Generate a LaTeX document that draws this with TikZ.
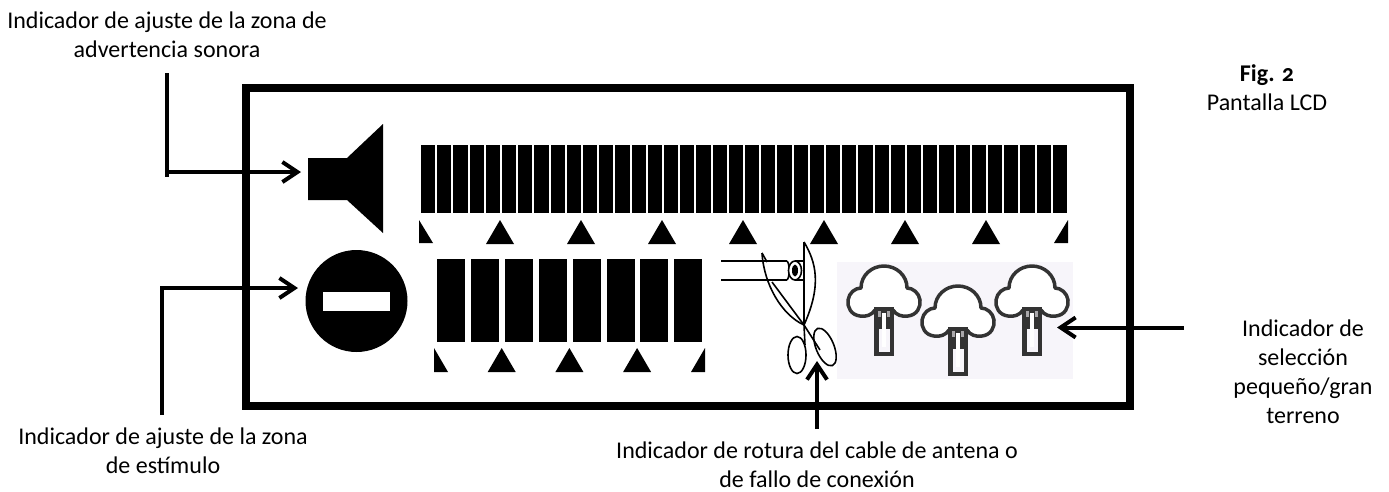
\documentclass[tikz,border=0pt]{standalone}
\usepackage{fontspec}
\setmainfont{Carlito}
\newfontfamily\figfont[Numbers=OldStyle]{Carlito}
\usetikzlibrary{arrows.meta,shapes.geometric}
\definecolor{treeink}{HTML}{333333}
\definecolor{treebg}{HTML}{F7F5FA}
\tikzset{
  x=1pt,y=-1pt,
  lbl/.style={inner sep=0pt,align=center,font=\fontsize{24}{29}\selectfont},
  conn/.style={line width=4pt,-{Straight Barb[length=15pt,width=20pt,line width=4pt]}},
  stem/.style={line width=4pt},
  thinline/.style={line width=1.6pt},
  pics/treeicon/.style={code={
    \fill[treeink] (-10,42) rectangle (10,91);
    \fill[treebg] (-5.5,64) rectangle (5.5,87);
    \fill[white] (-2,48) rectangle (2,82);
    \draw[treeink,line width=3.5pt,line join=round,fill=white]
      (-9,45) .. controls (-12,50) and (-18,52) .. (-24,51)
      .. controls (-33,50) and (-37,42) .. (-36,35)
      .. controls (-35,28) and (-29,23) .. (-23,23)
      .. controls (-23,10) and (-12,1) .. (0,1)
      .. controls (12,1) and (23,10) .. (23,23)
      .. controls (29,23) and (35,28) .. (36,35)
      .. controls (37,42) and (33,50) .. (24,51)
      .. controls (18,52) and (12,50) .. (9,45);
    \fill[treeink] (-10,42) rectangle (10,62);
    \fill[treebg!60!treeink] (-6,46) rectangle (-3,52);
    \fill[treebg!60!treeink] (3,46) rectangle (6,52);
    \fill[white] (-2,48) rectangle (2,82);
  }}
}
\begin{document}
\begin{tikzpicture}
\useasboundingbox (0,0) rectangle (1389,491);
\fill[white] (0,0) rectangle (1389,491);
% frame
\node[draw,line width=8pt,minimum width=884pt,minimum height=318pt,inner sep=0pt,anchor=north west] (frame) at (242,84) {};
% top bars
\foreach \i in {0,...,39} \fill ({421+16.2*\i},145) rectangle ++(14.2,68);
\fill (419,220) -- (433,243) -- (419,243) -- cycle;
\foreach \i in {1,...,7} \fill ({419+81*\i},220) -- ++(14,24) -- ++(-28,0) -- cycle;
\fill (1068,220) -- (1068,243) -- (1054,243) -- cycle;
% speaker
\fill (308,158) -- (347,158) -- (383,124) -- (383,233) -- (347,200) -- (308,200) -- cycle;
% stimulus circle
\node[circle,fill=black,minimum size=102pt,inner sep=0pt] (stim) at (356.5,301) {};
\fill[white] (323,292) rectangle (390,311);
% lower bars
\foreach \i in {0,...,7} \fill ({437+33.9*\i},259) rectangle ++(28,83);
\fill (434,348) -- (448,372) -- (434,372) -- cycle;
\foreach \i in {1,2,3} \fill ({434+67.7*\i},348) -- ++(14,24) -- ++(-28,0) -- cycle;
\fill (705,348) -- (705,372) -- (691,372) -- cycle;
% antenna
\draw[thinline] (721,261) -- (787,261);
\draw[thinline] (721,280) -- (787,280);
\draw[thinline] (787,261) .. controls (790,264) and (790,277) .. (787,280);
\draw[thinline] (795,261) -- (804,261);
\draw[thinline] (795,280) -- (804,280);
\node[ellipse,draw,line width=1.6pt,fill=white,minimum width=13pt,minimum height=19pt,inner sep=0pt] (collar) at (795,270.5) {};
\node[ellipse,fill=black,minimum width=6pt,minimum height=12pt,inner sep=0pt] (core) at (795,270.5) {};
% scissors
\draw[thinline] (804,242) -- (804,325);
\draw[thinline] (804,242) .. controls (816,262) and (822,285) .. (804,325);
\draw[thinline] (762,253) .. controls (764,285) and (782,315) .. (804,325);
\draw[thinline] (762,253) -- (767,262);
\draw[thinline] (772,282) -- (804,325);
\draw[thinline] (804,325) -- (805,345);
\draw[thinline] (804,325) -- (820,350);
\node[ellipse,draw,line width=1.6pt,minimum width=18pt,minimum height=37pt,inner sep=0pt] (hleft) at (797,355) {};
\node[ellipse,draw,line width=1.6pt,minimum width=18pt,minimum height=40pt,inner sep=0pt,rotate=22] (hright) at (825,347) {};
% trees
\fill[treebg] (837,262) rectangle (1073,379);
\pic at (884,265) {treeicon};
\pic at (958,285) {treeicon};
\pic at (1032,265) {treeicon};
% connectors
\coordinate (spk) at (301,172);
\coordinate (stimtip) at (298,288);
\coordinate (treetip) at (1057,327.5);
\coordinate (sciss) at (817,361);
\coordinate (a1) at (166.5,73);
\coordinate (a2) at (166.5,177);
\coordinate (a3) at (165,172);
\coordinate (b1) at (162,415);
\coordinate (c1) at (1184,327.5);
\coordinate (d1) at (817,429);
\draw[stem] (a1) -- (a2);
\draw[conn] (a3) -- (spk);
\draw[conn,line join=miter] (b1) |- (stimtip);
\draw[conn] (c1) -- (treetip);
\draw[conn] (d1) -- (sciss);
% labels
\node[lbl] (t1) at (167,35) {Indicador de ajuste de la zona de\\advertencia sonora};
\node[lbl] (t2) at (163,450.5) {Indicador de ajuste de la zona\\de estímulo};
\node[lbl] (t3) at (817,465) {Indicador de rotura del cable de antena o\\de fallo de conexión};
\node[lbl] (t4) at (1303,372) {Indicador de\\selección\\pequeño/gran\\terreno};
\node[lbl] (t5) at (1267,88) {{\figfont\bfseries Fig. 2}\\Pantalla LCD};
\end{tikzpicture}
\end{document}
